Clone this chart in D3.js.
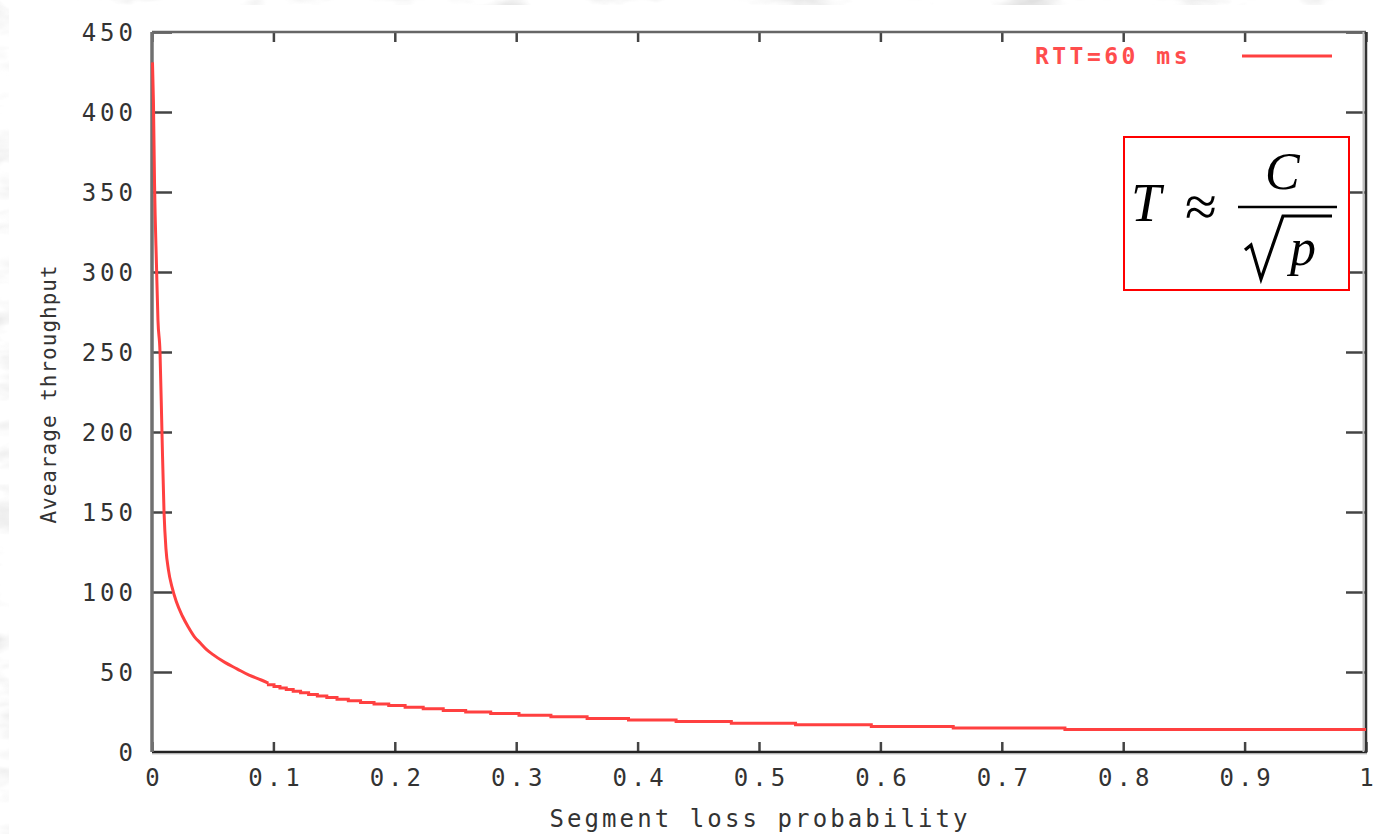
<!DOCTYPE html>
<html>
<head>
<meta charset="utf-8">
<script src="https://cdn.jsdelivr.net/npm/d3@7"></script>
<style>
  html, body { margin: 0; padding: 0; background: #fff; }
  svg { display: block; }
  .tick text { font-family: "DejaVu Sans Mono", "Liberation Mono", monospace; font-size: 24px; fill: #333; letter-spacing: 4px; }
</style>
</head>
<body>
<svg id="chart" width="1398" height="834"></svg>
<script>
// Axis ticks and labels
const xTicks = [0, 0.1, 0.2, 0.3, 0.4, 0.5, 0.6, 0.7, 0.8, 0.9, 1];
const xTickLabels = ["0", "0.1", "0.2", "0.3", "0.4", "0.5", "0.6", "0.7", "0.8", "0.9", "1"];
const yTicks = [0, 50, 100, 150, 200, 250, 300, 350, 400, 450];
const yTickLabels = ["0", "50", "100", "150", "200", "250", "300", "350", "400", "450"];

// Steep part of the throughput curve (low loss probabilities)
const rampLoss = [0.0004, 0.0012, 0.0021, 0.0037, 0.0049, 0.0066, 0.0082, 0.0099, 0.0115, 0.0135, 0.0165, 0.020, 0.025, 0.030, 0.035, 0.040, 0.045, 0.050, 0.060, 0.070, 0.080, 0.090, 0.0959];
const rampThroughput = [431, 406, 355, 304, 270, 250, 200, 150, 127, 114, 103, 94, 85, 78, 72, 68, 64, 61, 56, 52, 48, 45, 43];

// Stepped tail: throughput holds each value from its loss probability to the next one
const stepLoss = [0.0959, 0.1005, 0.1054, 0.1106, 0.1163, 0.1224, 0.1290, 0.1362, 0.1440, 0.1524, 0.1617, 0.1718, 0.1829, 0.1950, 0.2085, 0.2234, 0.2399, 0.2584, 0.2790, 0.3023, 0.3286, 0.3584, 0.3925, 0.4317, 0.4772, 0.5301, 0.5925, 0.6600, 0.7520, 0.8630, 1.0];
const stepThroughput = [43, 42, 41, 40, 39, 38, 37, 36, 35, 34, 33, 32, 31, 30, 29, 28, 27, 26, 25, 24, 23, 22, 21, 20, 19, 18, 17, 16, 15, 14, 14];

const seriesName = "RTT=60 ms";

const svg = d3.select("#chart");
const W = 1398, H = 834;

// Textured grey backdrop around the white sheet
const defs = svg.append("defs");
const f = defs.append("filter").attr("id", "marble").attr("x", 0).attr("y", 0).attr("width", 1).attr("height", 1);
f.append("feTurbulence").attr("type", "fractalNoise").attr("baseFrequency", "0.012 0.03").attr("numOctaves", 4).attr("seed", 7).attr("result", "n");
f.append("feColorMatrix").attr("in", "n").attr("type", "matrix")
  .attr("values", "0.4 0.4 0.4 0 0.38  0.4 0.4 0.4 0 0.38  0.4 0.4 0.4 0 0.38  0 0 0 0 1");
svg.append("rect").attr("width", W).attr("height", H).attr("filter", "url(#marble)");
svg.append("rect").attr("x", 9).attr("y", 5).attr("width", W - 9).attr("height", H - 5).attr("fill", "#fff");

const x = d3.scaleLinear().domain([0, 1]).range([152, 1366]);
const y = d3.scaleLinear().domain([0, 450]).range([752, 32]);

// Axes with inward ticks
const gx = svg.append("g").attr("transform", `translate(0,${y(0)})`)
  .call(d3.axisBottom(x).tickValues(xTicks).tickFormat((d, i) => xTickLabels[i]).tickSize(-10).tickPadding(22));
const gxTop = svg.append("g").attr("transform", `translate(0,${y(450)})`)
  .call(d3.axisTop(x).tickValues(xTicks).tickFormat("").tickSize(-10));
const gy = svg.append("g").attr("transform", `translate(${x(0)},0)`)
  .call(d3.axisLeft(y).tickValues(yTicks).tickFormat((d, i) => yTickLabels[i]).tickSize(-20).tickPadding(15));
const gyRight = svg.append("g").attr("transform", `translate(${x(1)},0)`)
  .call(d3.axisRight(y).tickValues(yTicks).tickFormat("").tickSize(-20));

[gx, gxTop, gy, gyRight].forEach(g => {
  g.select(".domain").remove();
  g.selectAll(".tick line").attr("stroke", "#444").attr("stroke-width", 2.5);
});
gx.selectAll(".tick text").attr("dy", "0.5em").attr("dx", 2);
gy.selectAll(".tick text").attr("dy", "0.36em");

// Plot frame
svg.append("line").attr("x1", x(0)).attr("x2", x(1)).attr("y1", y(450)).attr("y2", y(450)).attr("stroke", "#666").attr("stroke-width", 2.5);
svg.append("line").attr("x1", x(0)).attr("x2", x(1) + 1).attr("y1", y(0) + 2).attr("y2", y(0) + 2).attr("stroke", "#e4e4e4").attr("stroke-width", 2);
svg.append("line").attr("x1", x(0)).attr("x2", x(1) + 1).attr("y1", y(0)).attr("y2", y(0)).attr("stroke", "#222").attr("stroke-width", 2.5);
svg.append("line").attr("x1", x(1) - 2.5).attr("x2", x(1) - 2.5).attr("y1", y(450)).attr("y2", y(0)).attr("stroke", "#c0c0c0").attr("stroke-width", 2);
svg.append("line").attr("x1", x(1)).attr("x2", x(1)).attr("y1", y(450)).attr("y2", y(0) + 1).attr("stroke", "#333").attr("stroke-width", 2.5);
svg.append("line").attr("x1", x(0)).attr("x2", x(0)).attr("y1", y(450)).attr("y2", y(0)).attr("stroke", "#707070").attr("stroke-width", 3.5);

// Axis titles
const mono = '"DejaVu Sans Mono", "Liberation Mono", monospace';
svg.append("text").attr("x", 760).attr("y", 827).attr("text-anchor", "middle")
  .style("font-family", mono).style("font-size", "24px").style("letter-spacing", "3.1px").attr("fill", "#333")
  .text("Segment loss probability");
svg.append("text").attr("transform", "translate(56,394) rotate(-90)").attr("text-anchor", "middle")
  .style("font-family", mono).style("font-size", "21px").style("letter-spacing", "1px").attr("fill", "#333")
  .text("Avearage throughput");

// Curve
const ramp = rampLoss.map((p, i) => [p, rampThroughput[i]]);
const tail = stepLoss.map((p, i) => [p, stepThroughput[i]]);
const curveColor = "#ff4040";
svg.append("path").datum(ramp)
  .attr("d", d3.line().x(d => x(d[0])).y(d => y(d[1])).curve(d3.curveMonotoneX))
  .attr("fill", "none").attr("stroke", curveColor).attr("stroke-width", 3);
svg.append("path").datum(tail)
  .attr("d", d3.line().x(d => x(d[0])).y(d => y(d[1])).curve(d3.curveStepBefore))
  .attr("fill", "none").attr("stroke", curveColor).attr("stroke-width", 3);

// Legend
svg.append("text").attr("x", 1191).attr("y", 64).attr("text-anchor", "end")
  .style("font-family", mono).style("font-size", "23px").style("letter-spacing", "3.5px").style("font-weight", "bold").attr("fill", "#ff4d4d")
  .text(seriesName);
svg.append("line").attr("x1", 1242).attr("x2", 1332).attr("y1", 56).attr("y2", 56).attr("stroke", curveColor).attr("stroke-width", 3);

// Formula box: T ≈ C / sqrt(p)
const box = svg.append("g");
box.append("rect").attr("x", 1124).attr("y", 137).attr("width", 225).attr("height", 153)
  .attr("fill", "#fff").attr("stroke", "#ff0000").attr("stroke-width", 2);
const serif = '"Liberation Serif", "DejaVu Serif", serif';
box.append("text").attr("x", 1131).attr("y", 221).style("font-family", serif).style("font-style", "italic").style("font-size", "54px").text("T");
box.append("text").attr("x", 1185).attr("y", 226).style("font-family", serif).style("font-size", "58px").text("≈");
box.append("line").attr("x1", 1238).attr("x2", 1337).attr("y1", 207).attr("y2", 207).attr("stroke", "#000").attr("stroke-width", 2.5);
box.append("text").attr("x", 1265).attr("y", 189).style("font-family", serif).style("font-style", "italic").style("font-size", "52px").text("C");
box.append("path").attr("d", "M1245,250 L1251,245 L1261,279 L1283,216 L1332,216")
  .attr("fill", "none").attr("stroke", "#000").attr("stroke-width", 3.2).attr("stroke-linejoin", "miter");
box.append("text").attr("x", 1290).attr("y", 265).style("font-family", serif).style("font-style", "italic").style("font-size", "52px").text("p");
</script>
</body>
</html>
